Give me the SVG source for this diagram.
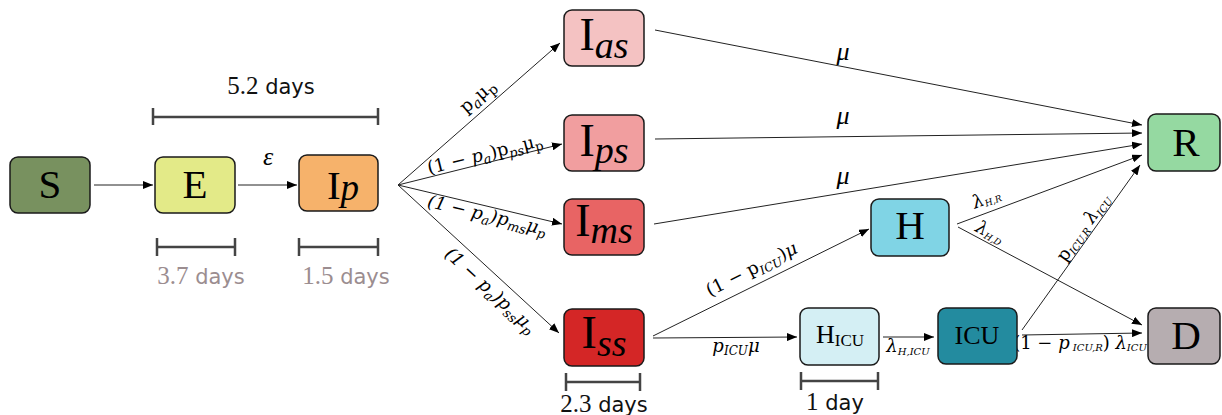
<svg xmlns="http://www.w3.org/2000/svg" width="1222" height="415" viewBox="0 0 1222 415">
<defs>
<marker id="ah" viewBox="0 0 10 8" refX="10" refY="4" markerWidth="10" markerHeight="8" orient="auto" markerUnits="userSpaceOnUse"><path d="M0,0 L10,4 L0,8 z" fill="#000"/></marker>
<style>
.box{stroke:#1a1a1a;stroke-width:1.5}
.nl{font-family:"Liberation Serif","DejaVu Serif",serif;fill:#000}
.big{font-size:41px}
.inf{font-size:46px}
.it{font-style:italic}
.edge{stroke:#222;stroke-width:1;fill:none;marker-end:url(#ah)}
.lab{font-family:"DejaVu Serif","Liberation Serif",serif;font-size:18px;fill:#000}
.gr{font-family:"Liberation Serif","DejaVu Serif",serif;font-style:italic;font-size:26px;fill:#000}
.bar{stroke:#444;stroke-width:2.5;fill:none}
.num{font-family:"Liberation Serif",serif;font-size:25px}
.days{font-family:"DejaVu Sans","Liberation Sans",sans-serif;font-size:21px}
.grey{fill:#9b8d90}
.dark{fill:#111}
</style>
</defs>

<g id="connectors">
<line class="edge" x1="94" y1="185" x2="153" y2="185"/>
<line class="edge" x1="238" y1="185" x2="297" y2="185"/>
<line class="edge" x1="398" y1="185" x2="560" y2="43"/>
<line class="edge" x1="398" y1="185" x2="562" y2="144"/>
<line class="edge" x1="398" y1="185" x2="562" y2="224"/>
<line class="edge" x1="398" y1="185" x2="559" y2="333"/>
<line class="edge" x1="655" y1="30" x2="1142" y2="125"/>
<line class="edge" x1="655" y1="139" x2="1142" y2="133"/>
<line class="edge" x1="654" y1="224" x2="1142" y2="144"/>
<line class="edge" x1="653" y1="336" x2="869" y2="229"/>
<line class="edge" x1="653" y1="338" x2="797" y2="337"/>
<line class="edge" x1="883" y1="337" x2="934" y2="337"/>
<line class="edge" x1="957" y1="224" x2="1142" y2="155"/>
<line class="edge" x1="958" y1="227" x2="1142" y2="325"/>
<line class="edge" x1="1022" y1="330" x2="1140" y2="165"/>
<line class="edge" x1="1022" y1="335" x2="1142" y2="333"/>

<text class="gr" x="268" y="165" text-anchor="middle">ε</text>
<text class="lab" transform="translate(478,97) rotate(-41)" y="5" text-anchor="middle" font-size="20">p<tspan dy="4" font-size="14" class="it">a</tspan><tspan dy="-4">μ</tspan><tspan dy="4" font-size="14">p</tspan></text>
<text class="lab" transform="translate(485,155) rotate(-14)" y="5" text-anchor="middle">(1 − <tspan class="it">p</tspan><tspan dy="4" font-size="13" class="it">a</tspan><tspan dy="-4">)p</tspan><tspan dy="4" font-size="13" class="it">ps</tspan><tspan dy="-4">μ</tspan><tspan dy="4" font-size="13">p</tspan></text>
<text class="lab it" transform="translate(487,216) rotate(13.5)" y="5" text-anchor="middle">(1 − p<tspan dy="4" font-size="13">a</tspan><tspan dy="-4">)p</tspan><tspan dy="4" font-size="13">ms</tspan><tspan dy="-4">μ</tspan><tspan dy="4" font-size="13">p</tspan></text>
<text class="lab it" transform="translate(490,291) rotate(42.6)" y="5" text-anchor="middle">(1 − p<tspan dy="4" font-size="13">a</tspan><tspan dy="-4">)p</tspan><tspan dy="4" font-size="13">ss</tspan><tspan dy="-4">μ</tspan><tspan dy="4" font-size="13">p</tspan></text>
<text class="gr" x="843" y="60" text-anchor="middle">μ</text>
<text class="gr" x="843" y="124" text-anchor="middle">μ</text>
<text class="gr" x="843" y="184" text-anchor="middle">μ</text>
<text class="lab" transform="translate(752,270) rotate(-26.5)" y="5" text-anchor="middle">(1 − p<tspan dy="4" font-size="12" class="it">ICU</tspan><tspan dy="-4">)</tspan><tspan class="it">μ</tspan></text>
<text class="lab it" x="736" y="352" text-anchor="middle">p<tspan dy="3" font-size="12">ICU</tspan><tspan dy="-3">μ</tspan></text>
<text class="lab it" x="908" y="352" text-anchor="middle" font-size="14">λ<tspan dy="3" font-size="10">H,ICU</tspan></text>
<text class="lab" x="1080" y="349" text-anchor="middle" font-size="13">(1 − <tspan class="it">p</tspan><tspan dy="2" font-size="10" class="it"> ICU,R</tspan><tspan dy="-2">)</tspan> <tspan class="it">λ</tspan><tspan dy="2" font-size="10" class="it">ICU</tspan></text>
<text class="lab" transform="translate(1084,228) rotate(-54.5)" y="5" text-anchor="middle" font-size="15">p<tspan dy="3" font-size="10" class="it">ICU,R</tspan><tspan dy="-3" class="it"> λ</tspan><tspan dy="3" font-size="10" class="it">ICU</tspan></text>
<text class="lab it" transform="translate(987,200) rotate(-20.5)" y="4" text-anchor="middle" font-size="13">λ<tspan dy="2" font-size="9">H,R</tspan></text>
<text class="lab it" transform="translate(989,234) rotate(28)" y="4" text-anchor="middle" font-size="13">λ<tspan dy="2" font-size="9">H,D</tspan></text>
</g>

<g id="scale-bars">
<path class="bar" d="M153,117 H378 M153,108 V125 M378,108 V125"/>
<text x="271" y="94" text-anchor="middle" class="dark"><tspan class="num">5.2</tspan><tspan class="days"> days</tspan></text>
<path class="bar" d="M157,247 H235 M157,238 V256 M235,238 V256"/>
<text x="201" y="284" text-anchor="middle" class="grey"><tspan class="num">3.7</tspan><tspan class="days"> days</tspan></text>
<path class="bar" d="M299,247 H378 M299,238 V256 M378,238 V256"/>
<text x="346" y="284" text-anchor="middle" class="grey"><tspan class="num">1.5</tspan><tspan class="days"> days</tspan></text>
<path class="bar" d="M566,382 H640 M566,373 V391 M640,373 V391"/>
<text x="604" y="412" text-anchor="middle" class="dark"><tspan class="num">2.3</tspan><tspan class="days"> days</tspan></text>
<path class="bar" d="M801,381 H878 M801,372 V390 M878,372 V390"/>
<text x="835" y="410" text-anchor="middle" class="dark"><tspan class="num">1</tspan><tspan class="days"> day</tspan></text>
</g>

<g id="node-S"><rect class="box" x="10" y="157" width="80" height="56" rx="8" fill="#78915f"/><text class="nl big" x="50" y="198" text-anchor="middle">S</text></g>
<g id="node-E"><rect class="box" x="155" y="157" width="80" height="56" rx="8" fill="#e3ea88"/><text class="nl big" x="195" y="198" text-anchor="middle">E</text></g>
<g id="node-Ip"><rect class="box" x="299" y="155" width="79" height="56" rx="8" fill="#f6b26b"/><text class="nl big" x="343" y="199" text-anchor="middle">I<tspan class="it" font-size="37" dy="1">p</tspan></text></g>
<g id="node-Ias"><rect class="box" x="564" y="10" width="80" height="56" rx="8" fill="#f4c2c2"/><text class="nl inf" x="604" y="50" text-anchor="middle">I<tspan class="it" font-size="38" dy="8">as</tspan></text></g>
<g id="node-Ips"><rect class="box" x="564" y="115" width="80" height="56" rx="8" fill="#f19e9f"/><text class="nl inf" x="604" y="156" text-anchor="middle">I<tspan class="it" font-size="38" dy="7">ps</tspan></text></g>
<g id="node-Ims"><rect class="box" x="564" y="199" width="80" height="56" rx="8" fill="#e86464"/><text class="nl inf" x="604" y="236" text-anchor="middle">I<tspan class="it" font-size="38" dy="7">ms</tspan></text></g>
<g id="node-Iss"><rect class="box" x="564" y="309" width="80" height="57" rx="8" fill="#d42626"/><text class="nl inf" x="604" y="348" text-anchor="middle">I<tspan class="it" font-size="38" dy="8">ss</tspan></text></g>
<g id="node-H"><rect class="box" x="871" y="199" width="78" height="57" rx="8" fill="#80d4e5"/><text class="nl big" x="910" y="239" text-anchor="middle">H</text></g>
<g id="node-HICU"><rect class="box" x="800" y="308" width="79" height="57" rx="8" fill="#d4eff4"/><text class="nl" x="840" y="343" text-anchor="middle" font-size="26">H<tspan font-size="17" dy="3">ICU</tspan></text></g>
<g id="node-ICU"><rect class="box" x="938" y="308" width="79" height="56" rx="8" fill="#238b9f"/><text class="nl" x="977" y="344" text-anchor="middle" font-size="26">ICU</text></g>
<g id="node-R"><rect class="box" x="1148" y="114" width="72" height="57" rx="8" fill="#95d9a1"/><text class="nl big" x="1186" y="156" text-anchor="middle">R</text></g>
<g id="node-D"><rect class="box" x="1148" y="308" width="72" height="56" rx="8" fill="#b6adb0"/><text class="nl big" x="1186" y="349" text-anchor="middle">D</text></g>
</svg>
